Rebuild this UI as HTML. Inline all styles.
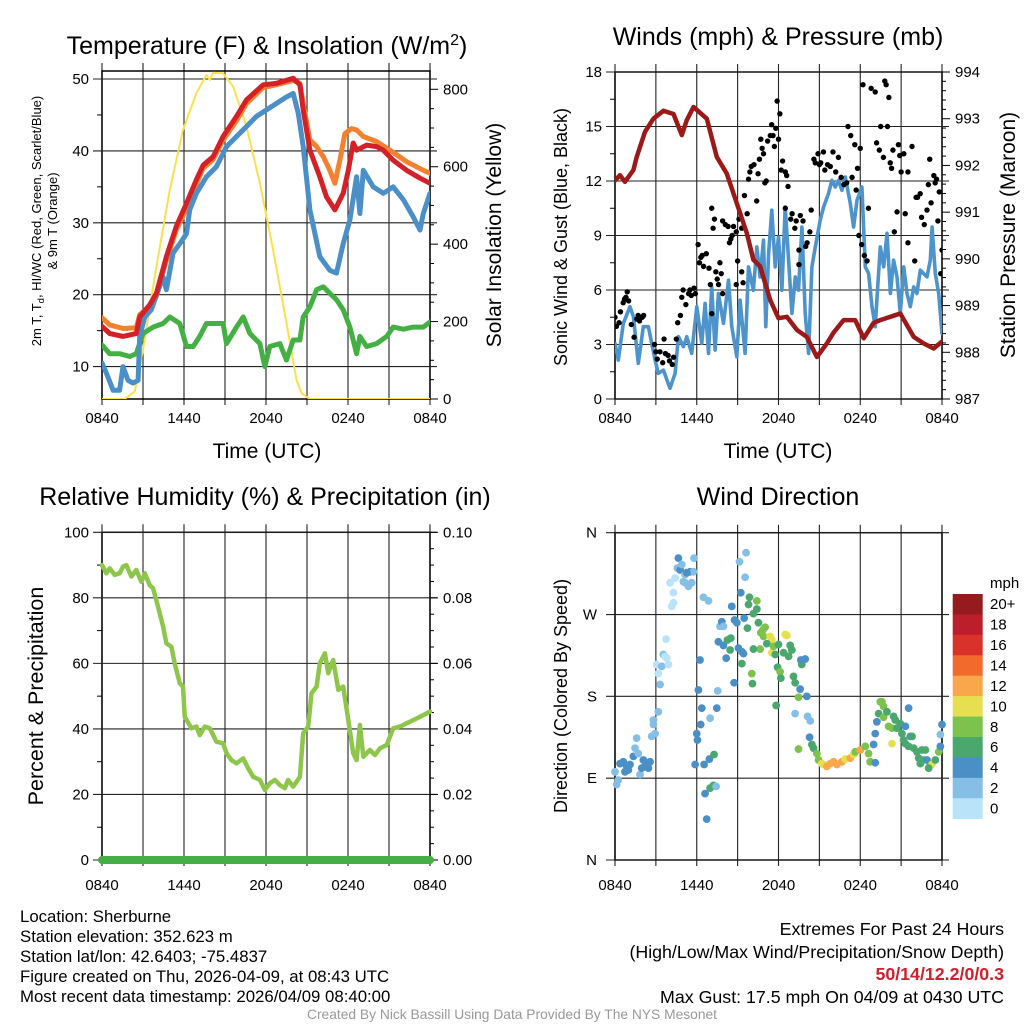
<!DOCTYPE html>
<html><head><meta charset="utf-8"><style>
body{margin:0;background:#fff;}
svg{display:block;font-family:"Liberation Sans",Arial,sans-serif;}
</style></head><body>
<svg id="fig" width="1024" height="1024" viewBox="0 0 1024 1024" xmlns="http://www.w3.org/2000/svg">
<rect width="1024" height="1024" fill="#fff"/>
<g id="p1"></g>
<g id="p2"></g>
<g id="p3"></g>
<g id="p4"></g>
<g font-size="16.8" fill="#000">
<text x="20" y="922">Location: Sherburne</text>
<text x="20" y="942">Station elevation: 352.623 m</text>
<text x="20" y="962">Station lat/lon: 42.6403; -75.4837</text>
<text x="20" y="982">Figure created on Thu, 2026-04-09, at 08:43 UTC</text>
<text x="20" y="1002">Most recent data timestamp: 2026/04/09 08:40:00</text>
</g>
<g font-size="17.8" text-anchor="end">
<text x="1004" y="935">Extremes For Past 24 Hours</text>
<text x="1004" y="958">(High/Low/Max Wind/Precipitation/Snow Depth)</text>
<text x="1004" y="980" fill="#d0202e" font-weight="bold">50/14/12.2/0/0.3</text>
<text x="1004" y="1003">Max Gust: 17.5 mph On 04/09 at 0430 UTC</text>
</g>
<text x="512" y="1019" font-size="13.8" fill="#999" text-anchor="middle">Created By Nick Bassill Using Data Provided By The NYS Mesonet</text>
</svg>
<script>
// ---- data (time in hours since 0840 UTC) ----
const xTickLabels=["0840","1440","2040","0240","0840"];
const tempTicks=[10,20,30,40,50];
const solarTicks=[0,200,400,600,800];
const windTicks=[0,3,6,9,12,15,18];
const presTicks=[987,988,989,990,991,992,993,994];
const rhTicks=[0,20,40,60,80,100];
const precipTicks=["0.00","0.02","0.04","0.06","0.08","0.10"];
const dirTicks=["N","E","S","W","N"];
const speedBins=["0","2","4","6","8","10","12","14","16","18","20+"];
const speedColors=["#b9e3f8","#86bfe6","#4a8fc6","#4aa86e","#7dc24c","#e6e050","#f8a84a","#f26b2d","#d8322b","#bd1e2b","#961b1f"];

const redT=[0,.56,1.54,2.51,2.76,3.49,3.98,4.71,5.44,6.18,6.91,7.4,8.13,8.86,9.84,10.57,11.79,12.77,13.99,14.48,14.72,15.21,15.94,16.43,17.04,17.65,18.02,18.38,18.63,19.36,20.09,20.58,21.31,22.29,23.27,24];
const redV=[15.6,14.6,14.2,14.6,16.9,18.6,20.2,25.3,29.5,32.7,36.0,38,39.2,42,44.8,47.1,49.2,49.4,50.1,49.2,45.7,40.1,36.4,33.6,31.8,34.1,37.3,41.1,40.1,40.8,40.6,40.1,38.7,37.3,36.2,35.5];
const orT=[0,.56,1.54,2.51,2.76,3.49,3.98,4.71,5.44,6.18,6.91,7.4,8.13,8.86,9.84,10.57,11.79,12.77,13.99,14.48,14.72,15.21,15.7,16.19,16.67,17.04,17.41,17.77,18.26,18.63,19.12,20.09,21.07,22.29,23.51,24];
const orV=[16.8,15.8,15.3,15.4,17.2,18.4,19.8,24.8,29.0,32.0,35.4,37.6,38.8,41.5,44.2,46.6,48.8,49.2,49.8,49.4,46.6,41.5,40.6,39.2,37.3,35.5,38.7,42.4,43.1,42.9,42,41.3,40.1,38.5,37.3,36.9];
const blT=[0,.32,.81,1.29,1.54,1.9,2.27,2.64,2.76,3.13,3.61,4.47,4.71,5.2,5.69,6.18,6.42,6.91,7.64,8.37,9.11,9.84,10.57,11.3,12.04,12.77,13.5,13.99,14.36,14.72,15.21,15.94,16.67,17.16,17.65,18.14,18.63,18.87,19.12,19.85,20.58,21.31,22.05,22.78,23.27,23.51,24];
const blV=[10.5,9.1,6.7,6.7,10,8.1,7.7,8.1,14.2,16.9,17.9,22.5,20.7,25.8,27.1,28.5,31.8,34.1,36.4,37.8,40.6,42,43.4,44.8,45.7,46.6,47.5,48,45.2,40.6,31.8,25.3,23.4,23,27.1,30.4,36.4,31.3,37.3,35,34.1,35,33.2,30.8,29,31.3,34.1];
const dpT=[0,.56,1.29,2.03,2.51,3.0,3.74,4.47,4.96,5.69,6.18,6.67,7.15,7.64,8.37,8.86,9.11,9.84,10.33,10.82,11.55,11.91,12.28,13.01,13.5,13.99,14.48,14.72,15.21,15.7,16.19,16.67,17.16,17.65,18.14,18.63,18.87,19.36,20.09,20.83,21.31,22.05,22.78,23.51,24];
const dpV=[13,11.8,11.8,11.4,11.8,14.6,15.5,16,16.9,16,12.8,12.8,14.2,16,16,16,13.2,15.5,16.9,14.6,13.2,10,12.8,13.2,10.9,13.7,13.7,16.9,18.3,20.7,21.1,20.2,19.3,17.9,15.5,11.8,14.2,12.8,13.2,14.2,15.5,15.2,15.5,15.5,16.2];
const solT=[0,1.66,2.39,3.0,3.98,4.96,5.93,6.91,7.64,7.89,8.13,8.86,9.6,10.57,11.55,12.52,13.5,14.23,14.6,15.2,24];
const solV=[0,0,19,127,342,540,695,790,837,824,843,841,807,704,557,385,196,49,15,0,0];

const presT=[0,.37,.73,1.35,1.59,2.2,2.82,3.55,4.29,4.9,5.27,5.76,6.74,7.47,8.2,8.94,9.67,10.16,10.65,11.39,12.0,12.61,13.35,14.08,14.82,15.55,16.04,16.78,17.63,18.25,18.98,19.47,20.21,20.94,21.92,22.65,23.39,24];
const presV=[991.68,991.79,991.65,991.9,992.18,992.72,993.0,993.17,993.1,992.65,992.97,993.25,993.0,992.18,991.83,991.19,990.55,989.98,989.84,989.12,988.73,988.76,988.48,988.33,987.9,988.19,988.42,988.69,988.69,988.3,988.63,988.69,988.76,988.83,988.33,988.19,988.08,988.23];
const windT=[0,.24,.61,1.1,1.35,1.71,2.08,2.45,2.94,3.18,3.55,4.04,4.41,4.65,5.02,5.27,5.63,6.0,6.37,6.61,6.86,7.1,7.35,7.59,7.96,8.33,8.57,8.94,9.18,9.55,9.8,10.16,10.41,10.65,10.9,11.07,11.27,11.51,11.76,12.0,12.25,12.49,12.74,12.98,13.23,13.47,13.72,13.96,14.21,14.45,14.7,15.06,15.31,15.67,15.92,16.16,16.41,16.65,16.9,17.27,17.51,17.76,18.12,18.37,18.61,18.86,19.1,19.28,19.47,19.72,19.96,20.21,20.45,20.7,20.94,21.19,21.43,21.67,21.92,22.16,22.41,22.65,22.9,23.14,23.27,23.51,23.76,24];
const windV=[3.06,2.14,4.16,5.08,4.53,1.96,3.98,3.98,2.14,1.41,1.59,.59,1.41,3.43,2.88,3.43,2.51,5.08,3.06,5.26,2.51,6.17,2.69,5.81,4.16,6.54,3.98,2.33,5.44,2.51,7.27,5.99,8.37,6.72,8.74,3.98,8.01,10.39,7.27,8.92,5.99,10.57,7.64,4.71,6.72,5.99,9.47,4.71,2.51,7.27,8.37,9.84,10.57,11.31,12.04,11.67,12.04,11.49,12.22,10.76,9.47,10.94,11.67,7.27,6.91,5.08,3.98,6.17,8.37,7.27,9.12,5.81,7.64,6.72,4.71,7.27,5.81,5.08,6.17,5.81,7.09,6.91,6.72,7.64,9.47,6.91,5.81,3.61];
const gustT=[0,.1,.3,.4,.6,.7,.8,.9,1.0,1.2,1.4,1.6,1.7,1.8,2.0,2.1,2.9,3.0,3.1,3.3,3.5,3.6,3.7,3.9,4.0,4.2,4.3,4.5,4.6,4.8,4.9,5.0,5.2,5.4,5.5,5.6,5.8,5.9,6.1,6.2,6.3,6.4,6.5,6.7,6.9,7.0,7.1,7.1,7.2,7.3,7.4,7.5,7.6,7.7,7.8,7.9,7.9,8.1,8.3,8.4,8.5,8.6,8.7,8.9,8.9,9.0,9.1,9.3,9.3,9.4,9.5,9.7,9.8,9.9,10.0,10.2,10.4,10.5,10.6,10.7,10.8,10.9,11.0,11.1,11.2,11.4,11.5,11.6,11.7,11.8,11.9,12.0,12.1,12.2,12.3,12.5,12.5,12.6,12.7,12.9,13.0,13.2,13.3,13.5,13.5,13.6,13.8,14.0,14.1,14.3,14.4,14.6,14.7,14.9,15.0,15.1,15.3,15.4,15.6,15.8,16.0,16.2,16.4,16.6,16.8,17.0,17.1,17.3,17.4,17.6,17.7,17.8,17.9,18.0,18.1,18.2,18.3,18.5,18.6,18.8,19.1,19.2,19.4,19.5,19.7,19.8,19.9,20.0,20.1,20.2,20.3,20.4,20.5,20.7,20.8,20.9,21.0,21.2,21.3,21.5,21.5,21.8,22.0,22.1,22.2,22.4,22.5,22.7,22.9,23.0,23.1,23.2,23.4,23.5,23.6,23.7,23.8,23.9,24.0];
const gustV=[4.5,4.0,4.2,4.8,5.3,5.5,5.6,5.9,5.4,4.1,3.4,4.4,4.6,4.3,4.5,4.6,3.0,2.6,2.2,2.6,2.0,3.3,2.5,2.4,2.1,1.9,2.3,3.3,4.2,4.6,5.6,6.0,5.2,5.8,6.0,5.7,6.1,5.8,8.5,7.5,7.8,7.9,7.3,8.0,7.2,6.3,4.7,10.5,9.4,9.9,7.0,6.6,6.3,7.5,6.9,5.8,9.8,9.6,9.5,8.6,8.8,9.0,9.5,6.3,9.2,7.6,9.9,7.0,9.4,6.4,11.2,10.2,12.1,12.5,12.8,12.9,10.9,12.4,13.2,14.3,13.8,13.5,11.9,12.0,14.2,14.5,15.1,14.5,13.9,14.9,16.4,14.3,15.7,12.6,13.1,10.5,12.5,12.3,11.7,9.9,10.2,9.4,9.8,8.2,7.4,10.1,9.8,8.4,8.6,9.2,10.4,13.2,13.0,13.5,12.9,13.0,13.6,12.6,12.9,12.8,13.6,12.5,13.3,12.2,11.8,11.9,15.0,14.5,12.2,14.0,11.5,12.7,9.0,13.8,8.5,17.3,7.9,7.6,10.5,17.1,16.9,14.1,13.7,15.0,13.3,17.5,17.3,15.0,16.6,13.0,12.7,13.7,9.2,10.3,14.0,13.4,12.5,13.5,10.2,12.5,8.6,13.9,7.6,11.1,11.1,11.3,10.0,9.6,10.4,11.8,13.2,10.8,12.3,11.9,12.1,9.8,11.4,6.9,8.2];

const rhT=[0,.32,.56,.93,1.29,1.54,1.78,2.15,2.51,2.88,3.13,3.49,3.74,4.1,4.47,4.71,5.08,5.32,5.69,5.93,6.05,6.54,6.91,7.15,7.52,7.89,8.37,8.86,9.11,9.47,9.84,10.33,10.69,11.06,11.55,11.91,12.28,12.65,13.01,13.38,13.62,13.99,14.48,14.72,15.09,15.33,15.7,15.94,16.31,16.55,16.92,17.29,17.65,18.02,18.38,18.63,18.87,19.12,19.6,19.97,20.34,20.83,21.31,21.8,22.29,22.78,23.27,24];
const rhV=[90,87.5,89,87,87.5,89.5,90,86.5,88.5,84.9,87.5,83.9,82.9,77.3,71.2,66.1,65.1,60,53.9,52.9,43.7,40.2,40.7,38.1,40.7,40.2,36.1,35.6,32.6,30.5,29.5,31,28,25.4,24.4,21.4,23.4,24.4,22.9,21.9,24.4,22.4,25.4,38.7,40.7,50.9,52.9,60,63.1,57,61,51.9,52.9,42.7,32.6,30.5,41.2,31.5,33.6,32,34.1,35.1,40.2,40.7,41.7,42.7,43.7,45.3];
const precipT=[0,24];
const precipV=[0,0];

const dirT=[0,.12,.24,.37,.61,.86,.98,1.1,.73,1.35,1.59,1.47,1.71,1.84,1.96,2.08,2.2,2.33,2.45,2.57,2.69,2.82,2.82,2.94,3.18,3.31,3.18,3.06,3.43,3.55,3.67,3.8,3.92,3.75,4.16,4.29,4.29,4.04,4.41,4.65,4.58,4.78,4.9,5.14,5.14,5.39,5.51,5.63,5.76,5.8,5.27,5.02,6.49,6.86,6.24,6.12,6.37,6.29,6.0,6.05,5.88,6.54,6.93,7.27,6.98,7.22,7.42,6.61,6.73,7.47,7.54,6.98,7.71,7.84,7.96,7.59,7.96,8.16,8.25,8.5,8.45,8.57,8.77,8.94,8.74,9.06,9.31,9.43,9.48,9.31,9.23,9.14,9.62,9.55,9.87,9.8,10.41,10.41,10.16,9.72,10.53,10.7,10.85,11.02,10.9,11.39,11.51,11.14,11.51,11.63,12.0,11.76,12.37,12.49,12.61,12.74,12.86,12.98,10.65,10.16,10.04,10.09,11.93,12.12,12.17,13.1,13.22,13.59,13.47,13.71,13.64,13.96,14.08,11.83,13.22,14.13,14.33,14.28,14.45,14.57,14.82,14.94,15.18,15.31,15.55,15.8,16.04,16.29,16.65,16.9,17.27,17.51,17.63,18.0,18.37,18.61,18.73,19.1,18.98,19.1,19.22,13.47,19.35,19.47,19.59,19.71,19.71,19.96,20.08,20.33,20.45,20.57,20.69,20.94,21.06,21.31,21.55,21.67,21.8,21.18,21.31,20.33,21.55,21.92,22.16,22.29,22.53,22.78,22.65,22.41,22.9,23.14,23.27,23.02,23.51,23.76,23.88,24.0,23.88];
const dirV=[97,83,88,106,108,103,99,105,97,114,134,123,117,94,101,110,103,106,101,108,136,149,154,139,163,193,205,215,213,226,224,222,215,243,279,283,294,305,310,332,321,319,325,314,305,301,317,305,317,332,316,306,289,285,220,187,167,149,139,132,105,105,111,116,79,82,81,73,45,167,186,156,257,262,257,240,236,222,242,244,231,279,264,261,195,233,229,227,266,216,294,328,338,311,289,281,285,276,271,255,261,250,253,256,246,246,242,238,228,235,237,226,228,248,247,224,236,231,232,232,205,194,212,207,200,202,195,188,179,215,220,221,180,170,161,158,153,135,127,123,117,110,106,105,103,106,108,105,108,111,112,116,119,121,125,117,108,107,127,139,152,122,161,174,174,169,157,163,147,145,158,154,145,150,139,147,167,136,136,132,128,128,125,123,119,112,121,121,110,106,110,105,105,101,110,119,125,149,138];
const dirSpd=[3,3,3,5,5,5,5,5,5,5,3,3,3,3,5,5,5,5,5,5,3,3,3,3,3,3,1,1,3,3,1,1,1,1,1,1,1,1,1,5,3,5,3,3,3,3,5,3,3,3,5,3,3,3,5,5,5,5,5,5,5,5,5,7,7,7,3,5,5,5,3,3,3,5,3,5,5,5,7,7,7,5,5,5,5,5,5,5,5,7,5,3,3,3,7,7,8,7,7,7,7,8,8,9,9,11,11,7,11,8,7,7,7,11,11,7,7,7,9,7,9,7,7,9,7,7,7,5,9,7,5,5,5,7,3,3,3,5,7,7,8,9,11,11,13,13,13,13,13,11,13,11,8,13,8,8,8,5,5,5,5,8,7,9,9,9,9,7,9,9,7,7,7,7,7,5,5,5,7,7,7,10,7,7,7,7,7,7,7,7,5,7,11,7,7,8,5,5,3];

// ---- helpers ----
const NS="http://www.w3.org/2000/svg";
const TICK=15;
function mk(parent,tag,attrs){const e=document.createElementNS(NS,tag);for(const k in attrs)e.setAttribute(k,attrs[k]);parent.appendChild(e);return e;}
function txt(parent,x,y,s,size,anchor,extra){const e=mk(parent,"text",Object.assign({x:x,y:y,"font-size":size,"text-anchor":anchor||"middle"},extra||{}));e.textContent=s;return e;}
function lin(d0,d1,r0,r1){return v=>r0+(v-d0)/(d1-d0)*(r1-r0);}
function pathD(ts,vs,sx,sy){return ts.map((t,i)=>(i?"L":"M")+sx(t).toFixed(1)+","+sy(vs[i]).toFixed(1)).join("");}
function frame(g,L,R,T,B,nv){
  for(let i=0;i<=nv;i++){const x=L+(R-L)*i/nv;const l=mk(g,"line",{x1:x,x2:x,y1:T-8,y2:B+6,stroke:"#222","stroke-width":1.1});
    
    }
  const r=mk(g,"rect",{x:L,y:T,width:R-L,height:B-T,fill:"none",stroke:"#000","stroke-width":1.5});
  
  
}
function hgrid(g,L,R,ys){ys.forEach(y=>{const l=mk(g,"line",{x1:L-9,x2:R+7,y1:y,y2:y,stroke:"#222","stroke-width":1.1});
  
  });}
function xlabels(g,L,R,y){xTickLabels.forEach((s,i)=>{const t=txt(g,L+(R-L)*i/4,y,s,TICK);
  
  });}
function series(g,ts,vs,sx,sy,color,w,name){const p=mk(g,"path",{d:pathD(ts,vs,sx,sy),fill:"none",stroke:color,"stroke-width":w,"stroke-linejoin":"round","stroke-linecap":"round"});
  
  return p;}

// ---- Panel 1 ----
(function(){
const g=document.getElementById("p1");const L=102,R=430,T=71,B=399;
const sx=lin(0,24,L,R),sy=lin(50,10,79,366.6),sr=lin(0,800,399,89.3);
frame(g,L,R,T,B,8);hgrid(g,L,R,tempTicks.map(sy));
for(let v=15;v<=45;v+=10){mk(g,"line",{x1:L-5,x2:L,y1:sy(v),y2:sy(v),stroke:"#000"});}
for(let v=0;v<=800;v+=50){mk(g,"line",{x1:R,x2:R+(v%200?4:8),y1:sr(v),y2:sr(v),stroke:"#000"});}
tempTicks.forEach(v=>{const t=txt(g,L-13,sy(v)+5,String(v),TICK,"end");
  
  });
solarTicks.forEach(v=>{const t=txt(g,R+13,sr(v)+5,String(v),TICK,"start");
  
  });
xlabels(g,L,R,B+24);
const clip=mk(g,"clipPath",{id:"c1"});mk(clip,"rect",{x:L,y:T,width:R-L,height:B-T});
const s=mk(g,"g",{"clip-path":"url(#c1)"});
series(s,solT,solV,sx,sr,"#fbe04c",2,"solar-insolation-line");
series(s,dpT,dpV,sx,sy,"#44b044",5,"dewpoint-line");
series(s,orT,orV,sx,sy,"#f5812e",5,"9m-temperature-line");
series(s,blT,blV,sx,sy,"#4a8fc7",5,"wind-chill-line");
series(s,redT,redV,sx,sy,"#d42128",5,"2m-temperature-line");
const ti=txt(g,267,54,"",25);ti.innerHTML='Temperature (F) &amp; Insolation (W/m<tspan dy="-9" font-size="16">2</tspan><tspan dy="9">)</tspan>';

const xl=txt(g,267,458,"Time (UTC)",21);
const yl=mk(g,"text",{transform:"translate(41,221) rotate(-90)","font-size":13,"text-anchor":"middle"});
yl.innerHTML='2m T, T<tspan dy="3" font-size="9.5">d</tspan><tspan dy="-3">, HI/WC (Red, Green, Scarlet/Blue)</tspan>';

const yl2=txt(g,0,0,"& 9m T (Orange)",13,"middle",{transform:"translate(57,221) rotate(-90)"});

const yr=txt(g,0,0,"Solar Insolation (Yellow)",21,"middle",{transform:"translate(501,235) rotate(-90)"});

})();

// ---- Panel 2 ----
(function(){
const g=document.getElementById("p2");const L=615,R=942,T=72,B=399;
const sx=lin(0,24,L,R),sy=lin(0,18,B,T),sp=lin(987,994,B,T);
frame(g,L,R,T,B,8);hgrid(g,L,R,windTicks.map(sy));
for(let v=1.5;v<18;v+=3){mk(g,"line",{x1:L-5,x2:L,y1:sy(v),y2:sy(v),stroke:"#000"});}
for(let v=987;v<=994.01;v+=0.2){const maj=Math.abs(v-Math.round(v))<0.01;mk(g,"line",{x1:R,x2:R+(maj?8:4),y1:sp(v),y2:sp(v),stroke:"#000"});}
windTicks.forEach(v=>{const t=txt(g,L-13,sy(v)+5,String(v),TICK,"end");
  });
presTicks.forEach(v=>{const t=txt(g,R+13,sp(v)+5,String(v),TICK,"start");
  });
xlabels(g,L,R,B+24);
const clip=mk(g,"clipPath",{id:"c2"});mk(clip,"rect",{x:L,y:T,width:R-L,height:B-T});
const s=mk(g,"g",{"clip-path":"url(#c2)"});
series(s,windT,windV,sx,sy,"#4d93cc",3.6,"sonic-wind-line");
gustT.forEach((t,i)=>{const c=mk(s,"circle",{cx:sx(t),cy:sy(gustV[i]),r:2.7,fill:"#000"});
  });
series(s,presT,presV,sx,sp,"#9c1919",4.5,"pressure-line");
const ti=txt(g,778,45,"Winds (mph) & Pressure (mb)",25);
const xl=txt(g,778,458,"Time (UTC)",21);
const yl=txt(g,0,0,"Sonic Wind & Gust (Blue, Black)",18,"middle",{transform:"translate(567,237) rotate(-90)"});

const yr=txt(g,0,0,"Station Pressure (Maroon)",21,"middle",{transform:"translate(1015,235) rotate(-90)"});

})();

// ---- Panel 3 ----
(function(){
const g=document.getElementById("p3");const L=102,R=430,T=532.3,B=860;
const sx=lin(0,24,L,R),sy=lin(0,100,B,T);
frame(g,L,R,T,B,8);hgrid(g,L,R,rhTicks.map(sy));
for(let v=10;v<100;v+=20){mk(g,"line",{x1:L-5,x2:L,y1:sy(v),y2:sy(v),stroke:"#000"});}
for(let v=0;v<=100;v+=5){mk(g,"line",{x1:R,x2:R+(v%20?4:8),y1:sy(v),y2:sy(v),stroke:"#000"});}
rhTicks.forEach(v=>{const t=txt(g,L-13,sy(v)+5,String(v),TICK,"end");
  });
precipTicks.forEach((s,i)=>{const t=txt(g,R+13,sy(rhTicks[i])+5,s,TICK,"start");
  });
xlabels(g,L,R,B+30);
series(g,rhT,rhV,sx,sy,"#8ec64c",4.5,"relative-humidity-line");
series(g,precipT,precipV.map(v=>v*1000),sx,sy,"#45af45",8,"precipitation-line");
const ti=txt(g,265,505,"Relative Humidity (%) & Precipitation (in)",25);
const yl=txt(g,0,0,"Percent & Precipitation",21.5,"middle",{transform:"translate(43,696) rotate(-90)"});

})();

// ---- Panel 4 ----
(function(){
const g=document.getElementById("p4");const L=615,R=942,T=532.7,B=860;
const sx=lin(0,24,L,R),sy=lin(0,360,B,T);
frame(g,L,R,T,B,8);hgrid(g,L,R,[0,90,180,270,360].map(sy));
dirTicks.forEach((s,i)=>{const t=txt(g,L-18,sy(i*90)+5,s,TICK,"end");
  });
xlabels(g,L,R,B+30);
dirT.forEach((t,i)=>{const c=mk(g,"circle",{cx:sx(t),cy:sy(dirV[i]),r:3.9,fill:speedColors[Math.min(10,Math.floor(dirSpd[i]/2))]});
  });
const ti=txt(g,778,505,"Wind Direction",25);
const yl=txt(g,0,0,"Direction (Colored By Speed)",18,"middle",{transform:"translate(567,696) rotate(-90)"});

const cb=mk(g,"g",{});
const top=594,h=(818.7-594)/11;
speedBins.forEach((s,i)=>{const k=10-i;
  const r=mk(cb,"rect",{x:952.7,y:top+i*h,width:30,height:h+0.3,fill:speedColors[k]});
  
  const t=txt(cb,990,top+i*h+h/2+5,speedBins[k],TICK,"start");
  });
const m=txt(cb,990,588,"mph",TICK,"start");
})();
</script>
</body></html>
